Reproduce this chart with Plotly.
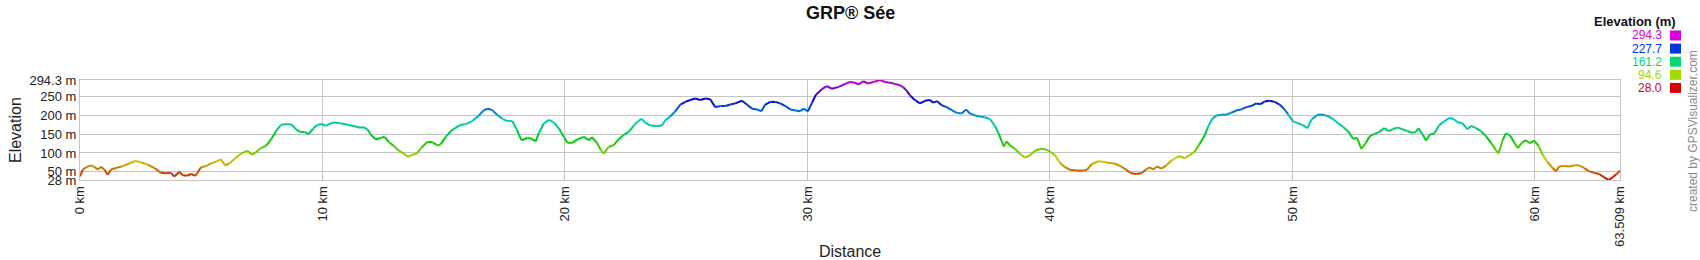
import colorsys
import plotly.graph_objects as go

# ---------------- data ----------------
dist_km = [
    0, 0.11, 0.25, 0.45, 0.59, 0.73, 0.87, 1.00, 1.14, 1.28, 1.48, 1.76, 2.03, 2.28, 2.52, 2.79,
    3.07, 3.34, 3.55, 3.75, 3.89, 4.10, 4.26, 4.44, 4.58, 4.76, 4.99, 5.20, 5.40, 5.61, 5.81,
    5.99, 6.16, 6.40, 6.64, 6.91, 7.09, 7.26, 7.46, 7.67, 7.88, 8.08, 8.29, 8.56, 8.74, 8.91,
    9.07, 9.25, 9.43, 9.62, 9.80, 9.98, 10.12, 10.35,
    10.47, 10.75, 11.02, 11.30, 11.50, 11.71, 11.85, 11.99, 12.19, 12.40, 12.56, 12.74, 12.95,
    13.15, 13.36, 13.53, 13.70, 13.88, 14.07, 14.32, 14.53, 14.74, 14.87, 15.08, 15.35, 15.63,
    15.90, 16.18, 16.45, 16.66, 16.82, 17.00, 17.21, 17.42, 17.62, 17.83, 18.01, 18.20, 18.45,
    18.61, 18.79, 18.93, 19.13, 19.34, 19.55, 19.75, 19.96, 20.10, 20.30, 20.51, 20.78, 20.99,
    21.11, 21.32, 21.46, 21.59, 21.80, 22.01, 22.21, 22.42, 22.63, 22.83, 22.97, 23.15, 23.31,
    23.52, 23.79, 24.00, 24.14, 24.34, 24.55, 24.76, 24.96, 25.17, 25.37, 25.58, 25.79, 25.99,
    26.20, 26.41, 26.61, 26.82, 27.02, 27.30, 27.50, 27.71, 27.92, 28.10, 28.26, 28.47, 28.67,
    28.88, 29.09, 29.29, 29.50, 29.70, 29.84, 30.02, 30.19, 30.35, 30.60, 30.80, 31.01, 31.29,
    31.56,
    31.75, 31.96, 32.10, 32.30, 32.51, 32.72, 32.99, 33.20, 33.40, 33.61, 33.82, 33.95, 34.09,
    34.23, 34.43, 34.64, 34.85, 35.05, 35.19, 35.35, 35.53, 35.74, 35.95, 36.15, 36.36, 36.54,
    36.70, 36.91, 37.11, 37.32, 37.53, 37.73, 37.87, 38.01, 38.10, 38.21, 38.35, 38.56, 38.76,
    38.97, 39.18, 39.38, 39.59, 39.79, 40.00, 40.21, 40.41, 40.62, 40.83, 41.10, 41.38, 41.54,
    41.72, 41.99, 42.27,
    42.39, 42.67, 42.94, 43.15, 43.35, 43.56, 43.77, 43.97, 44.11, 44.25, 44.43, 44.59, 44.80,
    45.00, 45.21, 45.35, 45.55, 45.76, 45.97, 46.17, 46.38, 46.52, 46.68, 46.86, 47.07, 47.27,
    47.48, 47.68, 47.89, 48.10, 48.30, 48.51, 48.69, 48.85, 49.06, 49.27, 49.47, 49.65, 49.81,
    50.02, 50.23, 50.43, 50.61, 50.80, 51.05, 51.26, 51.46, 51.67, 51.88, 52.08, 52.29, 52.50,
    52.67, 52.84,
    53.03, 53.20, 53.37, 53.58, 53.79, 53.97, 54.13, 54.34, 54.54, 54.75, 54.96, 55.09, 55.20,
    55.37, 55.51, 55.67, 55.85, 56.05, 56.26, 56.47, 56.63, 56.81, 57.02, 57.22, 57.36, 57.57,
    57.77, 57.98, 58.19, 58.39, 58.50, 58.67, 58.80, 58.97, 59.15, 59.29, 59.46, 59.63, 59.79,
    59.97, 60.15, 60.32, 60.52, 60.73, 60.87, 61.00, 61.21, 61.42, 61.62, 61.83, 62.03, 62.24,
    62.45, 62.65, 62.86, 63.04, 63.20, 63.37, 63.509,
]

elevation_m = [
    38, 55, 62, 67, 63, 56, 63, 56, 42, 56, 60, 65, 72, 79, 75, 69,
    60, 47, 46, 47, 37, 49, 40, 40, 44, 39, 62, 65, 72, 77, 83,
    67, 72, 86, 98, 106, 95, 102, 113, 119, 136, 158, 175, 177, 175, 163,
    156, 156, 150, 165, 175, 177, 172, 179,
    181, 179, 175, 172, 168, 168, 163, 149, 136, 140, 143, 129, 118,
    106, 98, 90, 95, 98, 113, 129, 129, 120, 123, 143, 161, 173,
    177, 185, 200, 214, 218, 214, 201, 191, 185, 185, 163, 134, 140,
    138, 131, 154, 179, 188, 181, 165, 142, 127, 127, 136, 143, 134,
    142, 127, 110, 98, 116, 121, 136, 148, 156, 172, 182, 191, 181,
    173, 172, 173, 187, 197, 211, 229, 236, 241, 245, 241, 245, 243,
    222, 225, 225, 229, 232, 239, 229, 218, 216, 211, 229, 236, 236,
    232, 225, 216, 213, 211, 218, 211, 234, 255, 270, 278, 271, 276,
    284,
    289, 287, 282, 291, 285, 289, 294.3, 289, 287, 284, 280, 275, 266,
    253, 241, 232, 239, 241, 234, 238, 227, 222, 214, 207, 205, 216,
    205, 200, 197, 195, 190, 172, 154, 131, 117, 131, 120, 111, 98,
    88, 94, 106, 111, 110, 104, 94, 74, 62, 55, 53, 53, 56,
    70, 78, 76,
    74, 72, 64, 55, 46, 44, 46, 56, 62, 56, 64, 58, 67,
    79, 88, 92, 86, 94, 104, 124, 147, 170, 190, 200, 202, 202,
    207, 213, 216, 222, 225, 232, 230, 237, 239, 236, 229, 218, 204,
    184, 179, 174, 166, 190, 202, 202, 198, 191, 179, 170, 158, 138,
    140, 111,
    127, 145, 150, 156, 166, 158, 163, 168, 163, 158, 154, 156, 166,
    149, 133, 149, 152, 174, 184, 193, 191, 182, 179, 163, 172, 166,
    158, 145, 127, 108, 99, 134, 152, 147, 127, 113, 127, 134, 126,
    133, 119, 95, 76, 60, 51, 64, 65, 64, 67, 67, 60, 51,
    47, 44, 35, 28.0, 35, 44, 53,
]

x_tick_vals = [0, 10, 20, 30, 40, 50, 60, 63.509]
x_tick_text = ["0 km", "10 km", "20 km", "30 km", "40 km", "50 km", "60 km", "63.509 km"]
y_tick_vals = [28, 50, 100, 150, 200, 250, 294.3]
y_tick_text = ["28 m", "50 m", "100 m", "150 m", "200 m", "250 m", "294.3 m"]
legend_levels = [294.3, 227.7, 161.2, 94.6, 28.0]
legend_labels = ["294.3", "227.7", "161.2", "94.6", "28.0"]

chart_title = "GRP® Sée"
x_title = "Distance"
y_title = "Elevation"
legend_title = "Elevation (m)"
credit_text = "created by GPSVisualizer.com"

# ---------------- styling helpers ----------------
FONT = "Liberation Sans, Arial, Helvetica, sans-serif"
E_MIN, E_MAX = min(elevation_m), max(elevation_m)
X_MAX = dist_km[-1]

W, H = 1700, 260
ML, MR, MT, MB = 80, 80, 80, 80
PW, PH = W - ML - MR, H - MT - MB


def px_x(p):
    return (p - ML) / PW


def px_y(p):
    return (H - MB - p) / PH


def elev_color(e, v=0.8):
    t = (e - E_MIN) / (E_MAX - E_MIN)
    r, g, b = colorsys.hsv_to_rgb(300.0 * t / 360.0, 1.0, v)
    return "rgb(%d,%d,%d)" % (round(r * 255), round(g * 255), round(b * 255))


# ---------------- colored profile line (segments grouped by colour bin) ----------------
NBINS = 80
bins = {}
for i in range(len(dist_km) - 1):
    mid = 0.5 * (elevation_m[i] + elevation_m[i + 1])
    t = (mid - E_MIN) / (E_MAX - E_MIN)
    b = int(round(t * (NBINS - 1)))
    xs, ys = bins.setdefault(b, ([], []))
    xs += [dist_km[i], dist_km[i + 1], None]
    ys += [elevation_m[i], elevation_m[i + 1], None]

fig = go.Figure()
for b in sorted(bins):
    xs, ys = bins[b]
    e_mid = E_MIN + (E_MAX - E_MIN) * b / (NBINS - 1)
    fig.add_trace(go.Scatter(
        x=xs, y=ys, mode="lines",
        line=dict(color=elev_color(e_mid), width=2),
        hoverinfo="skip", showlegend=False,
    ))

GRID = "#c4c4c4"
fig.update_layout(
    width=W, height=H,
    margin=dict(l=ML, r=MR, t=MT, b=MB),
    paper_bgcolor="white", plot_bgcolor="white",
    showlegend=False,
    font=dict(family=FONT, size=13, color="#222222"),
    xaxis=dict(
        range=[0, X_MAX], tickmode="array", tickvals=x_tick_vals, ticktext=x_tick_text,
        tickangle=-90, showgrid=True, gridcolor=GRID, gridwidth=1,
        showline=True, linecolor=GRID, linewidth=1, mirror=True,
        ticks="", zeroline=False, tickfont=dict(size=13, family=FONT, color="#222222"),
        fixedrange=True,
    ),
    yaxis=dict(
        range=[E_MIN, E_MAX], tickmode="array", tickvals=y_tick_vals, ticktext=y_tick_text,
        showgrid=True, gridcolor=GRID, gridwidth=1,
        showline=True, linecolor=GRID, linewidth=1, mirror=True,
        ticks="", zeroline=False, tickfont=dict(size=13, family=FONT, color="#222222"),
        fixedrange=True,
    ),
)

annotations = [
    dict(text="<b>%s</b>" % chart_title, x=0.5, y=px_y(13), xref="paper", yref="paper",
         xanchor="center", yanchor="middle", showarrow=False,
         font=dict(size=18, family=FONT, color="#111111")),
    dict(text=y_title, x=px_x(15), y=0.5, xref="paper", yref="paper", textangle=-90,
         xanchor="center", yanchor="middle", showarrow=False,
         font=dict(size=16, family=FONT, color="#222222")),
    dict(text=x_title, x=0.5, y=px_y(251), xref="paper", yref="paper",
         xanchor="center", yanchor="middle", showarrow=False,
         font=dict(size=16, family=FONT, color="#222222")),
    dict(text="<b>%s</b>" % legend_title, x=px_x(1678), y=px_y(22), xref="paper", yref="paper",
         xanchor="right", yanchor="middle", showarrow=False,
         font=dict(size=13, family=FONT, color="#111111")),
    dict(text=credit_text, x=px_x(1693), y=px_y(131), xref="paper", yref="paper", textangle=-90,
         xanchor="center", yanchor="middle", showarrow=False,
         font=dict(size=12, family=FONT, color="#8a8a8a")),
]

shapes = []
row0, row_step = 35.5, 13.1
for k, (lvl, lab) in enumerate(zip(legend_levels, legend_labels)):
    cy = row0 + k * row_step
    col = elev_color(lvl, v=0.85)
    annotations.append(dict(
        text=lab, x=px_x(1664), y=px_y(cy), xref="paper", yref="paper",
        xanchor="right", yanchor="middle", showarrow=False,
        font=dict(size=12, family=FONT, color=col)))
    shapes.append(dict(
        type="rect", xref="paper", yref="paper",
        x0=px_x(1670), x1=px_x(1681), y0=px_y(cy + 5), y1=px_y(cy - 5),
        fillcolor=col, line=dict(width=0)))

fig.update_layout(annotations=annotations, shapes=shapes)

fig.write_html("out.html")
